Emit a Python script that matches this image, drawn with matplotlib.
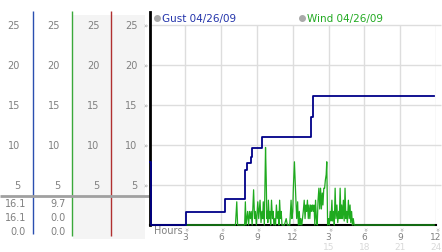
import matplotlib
matplotlib.use('Agg')
import matplotlib.pyplot as plt
from matplotlib.transforms import blended_transform_factory
from matplotlib.patches import Rectangle

# Gust readings (mph), hours since midnight, stepped line
gust_hours = [0.05, 0.1, 3.05, 6.33, 8.03, 8.16, 8.52, 8.57, 9.40, 13.56, 13.67, 23.85]
gust_mph = [7.9, 0.0, 1.6, 3.2, 6.9, 7.8, 8.5, 9.6, 11.0, 13.5, 16.1, 16.1]

# Wind readings (mph)
wind_hours = [3.05, 7.20, 7.31, 7.38, 7.97, 8.03, 8.09, 8.22, 8.30, 8.38,
              8.45, 8.52, 8.60, 8.72, 8.80, 8.87, 8.95, 9.07, 9.15, 9.26,
              9.34, 9.42, 9.48, 9.53, 9.62, 9.72, 9.78, 9.83, 9.87, 9.91,
              9.96, 10.03, 10.09, 10.15, 10.22, 10.30, 10.36, 10.42, 10.50, 10.56,
              10.63, 10.70, 10.78, 10.84, 10.90, 10.97, 11.03, 11.10, 11.30, 11.45,
              11.55, 11.75, 11.86, 11.93, 12.00, 12.05, 12.14, 12.22, 12.27, 12.33,
              12.41, 12.47, 12.55, 12.61, 12.68, 12.76, 12.88, 12.96, 13.03, 13.10,
              13.16, 13.23, 13.30, 13.36, 13.43, 13.50, 13.57, 13.64, 13.71, 13.78,
              13.85, 13.91, 13.98, 14.05, 14.12, 14.19, 14.26, 14.33, 14.40, 14.47,
              14.53, 14.60, 14.67, 14.73, 14.80, 14.85, 14.92, 15.00, 15.06, 15.14,
              15.20, 15.28, 15.34, 15.42, 15.48, 15.55, 15.62, 15.70, 15.77, 15.85,
              15.90, 15.97, 16.04, 16.10, 16.17, 16.24, 16.31, 16.38, 16.45, 16.52,
              16.58, 16.66, 16.73, 16.80, 16.86, 16.93, 17.00, 17.07, 17.14, 23.85]
wind_mph = [0, 0, 2.9, 0, 0, 2.9, 0, 1.7, 0, 1.7,
            0.8, 1.7, 0, 4.4, 0.8, 1.7, 0, 2.9, 0.8, 3.1,
            0.3, 1.7, 0.8, 2.9, 0, 9.7, 5.6, 0.8, 1.7, 0.3,
            3.1, 0.8, 1.7, 0, 3.1, 0.8, 1.7, 0, 0.8, 0,
            2.5, 0.8, 1.7, 0, 3.1, 0.8, 1.7, 0, 0, 0.8,
            0, 0, 3.1, 0.8, 1.7, 4.6, 7.9, 4.6, 2.9, 0.8,
            2.9, 0, 1.7, 0, 0.8, 0, 1.7, 3.1, 0.8, 2.5,
            1.7, 3.1, 0.8, 2.5, 0.8, 2.5, 1.7, 2.5, 1.7, 2.5,
            0, 3.1, 0.8, 0, 3.1, 4.6, 2.0, 4.6, 2.0, 4.0,
            2.5, 4.6, 4.6, 5.6, 6.3, 7.9, 0, 0.8, 0, 1.7,
            0.5, 3.1, 0.5, 1.7, 0, 4.6, 0.8, 2.5, 0.3, 1.7,
            0.8, 4.6, 0.8, 2.5, 0.8, 3.1, 0.5, 4.6, 0.8, 1.7,
            0.3, 3.1, 0.8, 2.5, 0.3, 1.7, 0, 0.8, 0, 0]

level_ticks = [25, 20, 15, 10, 5]
hour_ticks = [3, 6, 9, 12, 15, 18, 21, 24]
hour_labels = ['3', '6', '9', '12', '3', '6', '9', '12']
pm_ticks = [15, 18, 21, 24]
pm_labels = ['15', '18', '21', '24']
gust_stats = ['16.1', '16.1', '0.0']
wind_stats = ['9.7', '0.0', '0.0']
legend_names = ['Gust 04/26/09', 'Wind 04/26/09']

W, H = 442, 253
fig = plt.figure(figsize=(W / 100, H / 100), dpi=100)

# full-figure overlay in pixel units for the side panel and tick text
bg = fig.add_axes([0, 0, 1, 1])
bg.set_xlim(0, W)
bg.set_ylim(H, 0)
bg.axis('off')

ax = fig.add_axes([149.5 / W, (H - 226) / H, 286.5 / W, 213 / H])
ax.set_xlim(0, 24)
ax.set_ylim(0, 213 / 8)

lab_col = '#808080'

# --- side panel ---
bg.add_patch(Rectangle((72.7, 15.5), 72.3, 224.5, color='#f4f4f4', lw=0))
bg.vlines(33.3, 12, 235, color='#2a4fb0', lw=1)
bg.vlines(72.3, 12, 237, color='#3aa83a', lw=1)
bg.vlines(111, 12, 237, color='#b03030', lw=1)
bg.hlines(197, 0, 149, color='#a0a0a0', lw=2)

tr_left = blended_transform_factory(bg.transData, ax.transData)
for col_x in [20, 60, 99.3, 137.3]:
    for lv in level_ticks:
        bg.text(col_x, lv, str(lv), transform=tr_left, ha='right', va='center',
                fontsize=7, color=lab_col)
for lv in level_ticks:
    bg.text(145.7, lv, '»', transform=tr_left, ha='center', va='center',
            fontsize=5, color='#999999')

for row_y, g, w in zip([204, 218, 232], gust_stats, wind_stats):
    bg.text(26, row_y, g, ha='right', va='center', fontsize=7, color=lab_col)
    bg.text(65.7, row_y, w, ha='right', va='center', fontsize=7, color=lab_col)

# --- main chart ---
# horizontal grid runs to the right edge of the picture
tr_grid = blended_transform_factory(bg.transData, ax.transData)
bg.hlines(level_ticks, 150, 441, color='#dddddd', lw=1, transform=tr_grid, zorder=0)
ax.vlines(hour_ticks, 0, 25, color='#dddddd', lw=1, zorder=0)
ax.patch.set_visible(False)
ax.plot(wind_hours, wind_mph, color='#1faa1f', lw=0.9, zorder=3, clip_on=False)
ax.plot(gust_hours, gust_mph, color='#000088', lw=1.3, drawstyle='steps-post',
        zorder=4, clip_on=False)

for s in ['top', 'right']:
    ax.spines[s].set_visible(False)
ax.spines['left'].set_linewidth(2)
ax.spines['bottom'].set_linewidth(1.5)
ax.set_xticks([])
ax.set_yticks([])

# legend row
ax.plot([0.026], [0.972], 'o', color='#aaaaaa', ms=4, transform=ax.transAxes, clip_on=False)
ax.text(0.043, 0.972, legend_names[0], transform=ax.transAxes, va='center',
        fontsize=7.5, color='#2233aa')
ax.plot([0.533], [0.972], 'o', color='#aaaaaa', ms=4, transform=ax.transAxes, clip_on=False)
ax.text(0.548, 0.972, legend_names[1], transform=ax.transAxes, va='center',
        fontsize=7.5, color='#22aa22')

# x labels: tick marks, hour row, then afternoon 24h row
tr_bot = blended_transform_factory(ax.transData, bg.transData)
for h, lab in zip(hour_ticks, hour_labels):
    bg.text(h, 237.5, lab, transform=tr_bot, ha='center', va='center', fontsize=6.5,
            color=lab_col)
    bg.text(h, 229.5, '»', transform=tr_bot, ha='center', va='center', fontsize=5,
            rotation=-90, color='#999999')
for h, lab in zip(pm_ticks, pm_labels):
    bg.text(h, 247.5, lab, transform=tr_bot, ha='center', va='center', fontsize=6.5,
            color='#d9d9d9')
bg.text(154, 231.5, 'Hours', ha='left', va='center', fontsize=7, color=lab_col)

fig.savefig('out.png', dpi=100)
